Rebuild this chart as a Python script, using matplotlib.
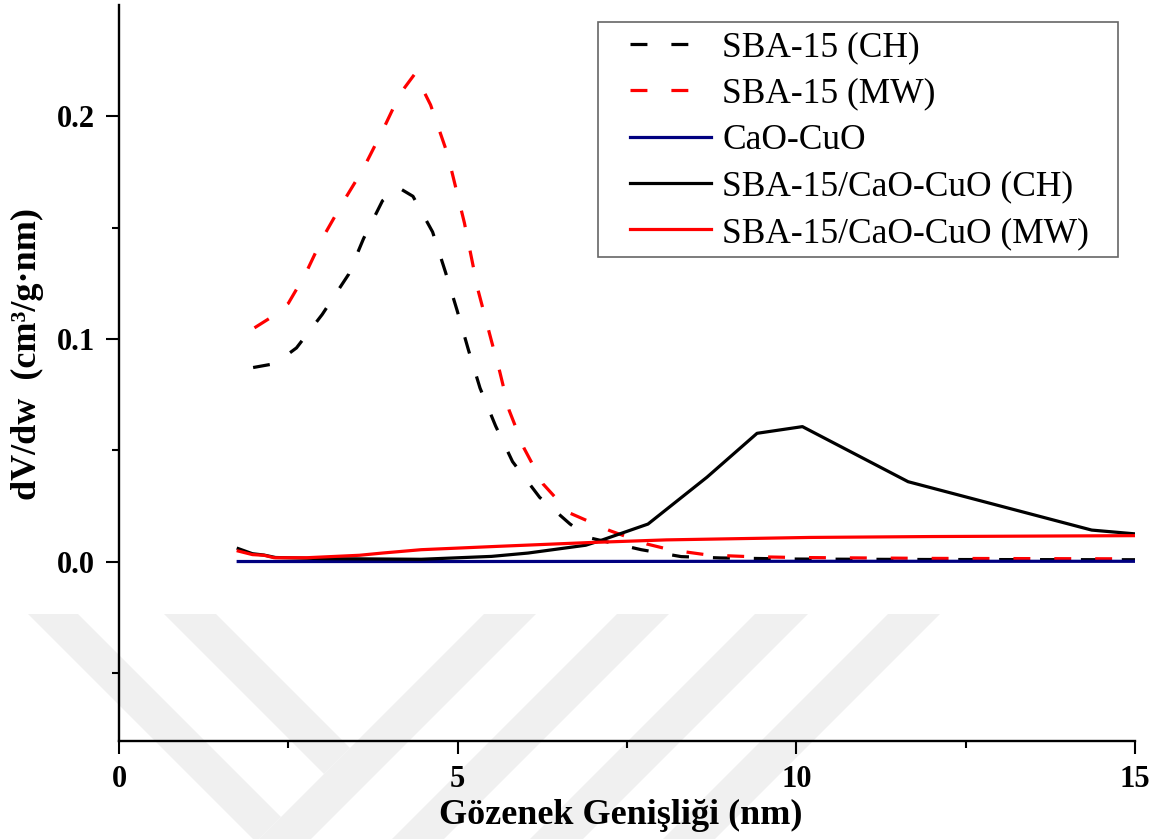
import numpy as np
import matplotlib
matplotlib.use("Agg")
import matplotlib.pyplot as plt
from matplotlib.patches import Polygon, Rectangle
from matplotlib.ticker import MultipleLocator, FormatStrFormatter

plt.rcParams['font.family'] = ['Liberation Serif', 'DejaVu Serif']

# --- data (pore width nm, dV/dw cm3/g.nm)
sba_ch_x = [1.98, 2.31, 2.62, 3.0, 3.39, 3.61, 3.89, 4.12, 4.34, 4.63, 4.82,
            4.99, 5.16, 5.33, 5.56, 5.81, 6.21, 6.66, 6.95, 7.71, 8.30, 8.88,
            10.0, 12.0, 15.0]
sba_ch_y = [0.0872, 0.089, 0.096, 0.111, 0.129, 0.145, 0.162, 0.168, 0.164,
            0.148, 0.130, 0.113, 0.095, 0.078, 0.061, 0.045, 0.029, 0.017,
            0.0108, 0.0055, 0.0024, 0.0018, 0.0013, 0.0011, 0.001]

sba_mw_x = [2.0, 2.25, 2.5, 2.75, 3.0, 3.3, 3.6, 3.9, 4.15, 4.37, 4.6, 4.85,
            5.1, 5.3, 5.5, 5.62, 5.76, 5.98, 6.26, 6.65, 7.25, 7.8, 8.15, 8.7,
            9.3, 10.0, 12.0, 15.0]
sba_mw_y = [0.105, 0.1098, 0.116, 0.129, 0.145, 0.161, 0.176, 0.194, 0.210,
            0.219, 0.205, 0.183, 0.152, 0.122, 0.099, 0.0855, 0.068, 0.051,
            0.035, 0.022, 0.014, 0.008, 0.0054, 0.0031, 0.0024, 0.002, 0.0016,
            0.0014]

cao_x = [1.76, 5.0, 10.0, 15.0]
cao_y = [0.0002, 0.0002, 0.0003, 0.0003]

comp_ch_x = [1.76, 1.97, 2.14, 2.31, 3.0, 4.46, 5.5, 6.04, 6.89, 7.10, 7.81,
             8.68, 9.42, 10.09, 11.65, 14.36, 15.0]
comp_ch_y = [0.006, 0.0037, 0.0031, 0.002, 0.0015, 0.0012, 0.0025, 0.004,
             0.0075, 0.0095, 0.017, 0.038, 0.0577, 0.0607, 0.036, 0.0143,
             0.0126]

comp_mw_x = [1.76, 1.97, 2.14, 2.29, 2.77, 3.55, 3.89, 4.46, 5.59, 6.94, 8.08,
             10.2, 12.0, 15.0]
comp_mw_y = [0.0049, 0.0033, 0.003, 0.0019, 0.0019, 0.003, 0.004, 0.0055,
             0.007, 0.0087, 0.0099, 0.011, 0.0114, 0.0118]

labels = ['SBA-15 (CH)', 'SBA-15 (MW)', 'CaO-CuO',
          'SBA-15/CaO-CuO (CH)', 'SBA-15/CaO-CuO (MW)']

W, H = 1164, 839
fig = plt.figure(figsize=(W / 100, H / 100), dpi=100)

# faint watermark stripes behind the chart (pixel coords -> figure coords)
def px(pts):
    return [(x / W, 1 - y / H) for x, y in pts]

wm = '#f0f0f0'
top, bot = 614, 900
for u1, u2 in [(1098, 1150), (1231, 1283), (1369, 1422), (1502, 1554)]:
    pts = [(u1 - top, top), (u2 - top, top), (u2 - bot, bot), (u1 - bot, bot)]
    fig.add_artist(Polygon(px(pts), closed=True, transform=fig.transFigure,
                           facecolor=wm, edgecolor='none', zorder=-1))
# down-right stripes ending on the first down-left stripe
for v1, v2 in [(-586, -536), (-450, -398)]:
    u = 1098
    pts = [(top + v1, top), (top + v2, top), ((u + v2) / 2, (u - v2) / 2),
           ((u + v1) / 2, (u - v1) / 2)]
    fig.add_artist(Polygon(px(pts), closed=True, transform=fig.transFigure,
                           facecolor=wm, edgecolor='none', zorder=-1))

ax = fig.add_axes([119 / W, 1 - 741 / H, (1135 - 119) / W, (741 - 5) / H])
ax.patch.set_alpha(0)

lw = 2.3
dash = (0, (5.3, 7.5))
ax.plot(sba_ch_x, sba_ch_y, color='black', lw=lw, linestyle=dash, label=labels[0])
ax.plot(sba_mw_x, sba_mw_y, color='#ff0000', lw=lw, linestyle=dash, label=labels[1])
ax.plot(cao_x, cao_y, color='#000080', lw=lw, label=labels[2])
ax.plot(comp_ch_x, comp_ch_y, color='black', lw=lw, label=labels[3])
ax.plot(comp_mw_x, comp_mw_y, color='#ff0000', lw=lw, label=labels[4])

ax.set_xlim(0, 15)
ax.set_ylim(-0.0803, 0.2498)
ax.xaxis.set_major_locator(MultipleLocator(5))
ax.xaxis.set_minor_locator(MultipleLocator(2.5))
ax.yaxis.set_major_locator(MultipleLocator(0.1))
ax.yaxis.set_minor_locator(MultipleLocator(0.05))
ax.yaxis.set_major_formatter(FormatStrFormatter('%.1f'))

for s in ['top', 'right']:
    ax.spines[s].set_visible(False)
for s in ['left', 'bottom']:
    ax.spines[s].set_linewidth(1.7)

ax.tick_params(which='major', direction='out', length=9.4, width=1.5,
               labelsize=22, pad=8)
ax.tick_params(which='minor', direction='out', length=5, width=1.5)
for t in ax.get_xticklabels() + ax.get_yticklabels():
    t.set_fontweight('bold')

ax.set_xlabel('Gözenek Genişliği (nm)', fontsize=26, fontweight='bold')
ax.set_ylabel('dV/dw  (cm³/g·nm)', fontsize=26, fontweight='bold')
ax.xaxis.set_label_coords(0.494, -0.079)
ax.yaxis.set_label_coords(-0.074, 0.526)

# legend frame drawn separately so the padding matches the original box
ax.add_patch(Rectangle((598 / W, 1 - 257 / H), (1118 - 598) / W, (257 - 22) / H,
                       transform=fig.transFigure, facecolor='white',
                       edgecolor='#666666', linewidth=1.2, zorder=4,
                       clip_on=False))
leg = ax.legend(loc='upper left', bbox_to_anchor=(630 / W, 1 - 31 / H),
                bbox_transform=fig.transFigure, borderaxespad=0, borderpad=0,
                fontsize=25.5, labelspacing=0.38, handlelength=2.3,
                handletextpad=0.3, frameon=False)
leg.set_zorder(5)

fig.savefig('out.png', dpi=100)
